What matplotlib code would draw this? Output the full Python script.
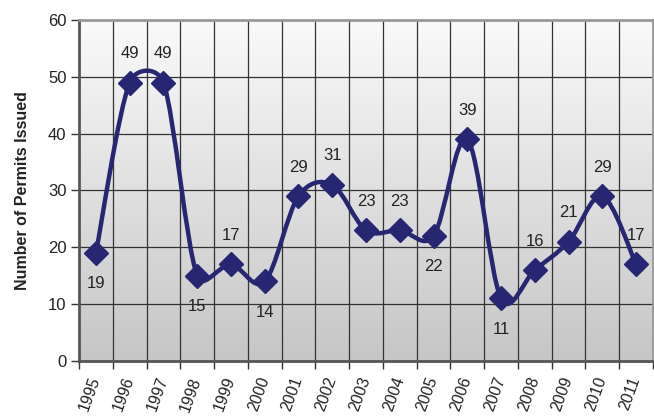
import numpy as np
import matplotlib.pyplot as plt
from matplotlib.path import Path
from matplotlib.patches import PathPatch
from matplotlib.colors import LinearSegmentedColormap

plt.rcParams['font.family'] = ['Liberation Sans', 'DejaVu Sans']

years = ['1995', '1996', '1997', '1998', '1999', '2000', '2001', '2002', '2003',
         '2004', '2005', '2006', '2007', '2008', '2009', '2010', '2011']
permits = [19, 49, 49, 15, 17, 14, 29, 31, 23, 23, 22, 39, 11, 16, 21, 29, 17]
label_below = [True, False, False, True, False, True, False, False, False,
               False, True, False, True, False, False, False, False]

navy = '#262673'

fig = plt.figure(figsize=(6.54, 4.19), dpi=100)
ax_rect = [0.1208, 0.1384, 0.8777, 0.8139]
ax = fig.add_axes(ax_rect)

n = len(years)
x = np.arange(n)
y = np.array(permits, dtype=float)

ax.set_xlim(-0.5, n - 0.5)
ax.set_ylim(0, 60)

# gradient background
grad = np.linspace(0, 1, 256).reshape(-1, 1)
ax.imshow(grad, extent=[-0.5, n - 0.5, 0, 60], aspect='auto', origin='upper',
          cmap=LinearSegmentedColormap.from_list('bg', ['#fafafa', '#c6c6c6']),
          zorder=0)

# grid
for b in np.arange(0.5, n - 0.5, 1.0):
    ax.axvline(b, color='#333333', lw=0.9, zorder=1)
for v in range(10, 60, 10):
    ax.axhline(v, color='#333333', lw=0.9, zorder=1)

# smoothed line, excel-like: catmull-rom tangents (1/6), clamped to half of
# the adjacent segment length (measured in pixel space)
sx = 654 * ax_rect[2] / n
sy = 419 * ax_rect[3] / 60
pts = np.column_stack([x * sx, y * sy])


def ctrl(i, forward):
    p1 = pts[i]
    p0 = pts[max(i - 1, 0)]
    p2 = pts[min(i + 1, n - 1)]
    t = (p2 - p0) / 6.0
    nb = p2 if forward else p0
    lim = 0.5 * np.linalg.norm(nb - p1)
    ln = np.linalg.norm(t)
    if ln > lim and ln > 0:
        t = t * lim / ln
    return p1 + t if forward else p1 - t


verts = [pts[0]]
codes = [Path.MOVETO]
for i in range(n - 1):
    verts += [ctrl(i, True), ctrl(i + 1, False), pts[i + 1]]
    codes += [Path.CURVE4] * 3
verts = np.array(verts) / np.array([sx, sy])
ax.add_patch(PathPatch(Path(verts, codes), fill=False, edgecolor=navy, lw=3.2,
                       zorder=3, capstyle='round', joinstyle='round'))

ax.plot(x, y, linestyle='none', marker='D', markersize=12.5, color=navy, zorder=4)

for xi, yi, below in zip(x, permits, label_below):
    off = -5.4 if below else 5.1
    ax.text(xi, yi + off, str(yi), ha='center', va='center', fontsize=12,
            color='#222222', zorder=5)

# axes styling
ax.set_yticks(range(0, 61, 10))
ax.tick_params(axis='y', direction='out', length=6, width=1, color='#333333',
               labelsize=12, pad=3, labelcolor='#222222')
ax.set_xticks(np.arange(-0.5, n, 1.0))
ax.set_xticklabels([])
ax.tick_params(axis='x', direction='out', length=6, width=1, color='#333333')
for xi, yr in zip(x, years):
    ax.text(xi, -2.9, yr, rotation=70, rotation_mode='anchor', ha='right',
            va='center', fontsize=11.5, color='#222222', clip_on=False)

ax.spines['left'].set_color('#555555')
ax.spines['left'].set_linewidth(2)
ax.spines['bottom'].set_color('#555555')
ax.spines['bottom'].set_linewidth(2)
ax.spines['top'].set_color('#999999')
ax.spines['top'].set_linewidth(2)
ax.spines['right'].set_color('#999999')
ax.spines['right'].set_linewidth(2)

ax.set_ylabel('Number of Permits Issued', fontsize=11.5, fontweight='bold',
              labelpad=13, color='#222222')

fig.savefig('out.png', dpi=100)
